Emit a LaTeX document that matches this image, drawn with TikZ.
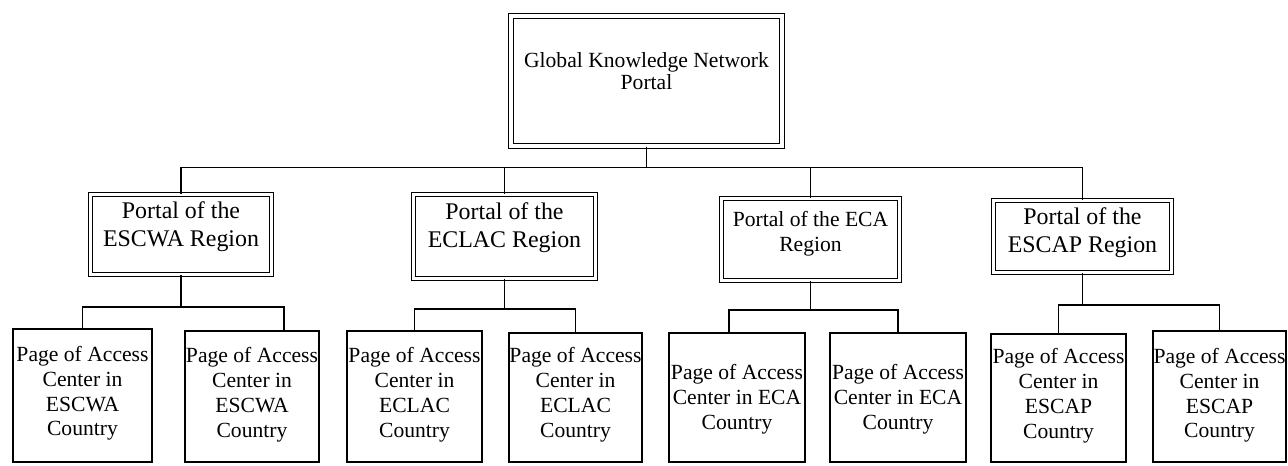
\documentclass[tikz,border=0pt]{standalone}
\usepackage{fontspec}
\setmainfont{Liberation Serif}
\usetikzlibrary{positioning}

\tikzset{
	portalbox/.style 2 args={draw, line width=.6pt, double, double distance=1.8pt,
		minimum width=#1, minimum height=#2},
	pagebox/.style 2 args={draw, line width=.9pt, minimum width=#1, minimum height=#2},
	link/.style={line width=.9pt},
	pagetext/.style={inner sep=0pt, align=center, font=\fontsize{12.3}{14.2}\selectfont},
	portaltext/.style={inner sep=0pt, align=center, font=\fontsize{13.6}{16.1}\selectfont},
}

\begin{document}
\begin{tikzpicture}[x=0.02cm, y=-0.02cm]
\useasboundingbox (0,0) rectangle (1288,466);

%Global portal
\node [portalbox={5.42cm}{2.6cm}, line width=.7pt, double distance=2pt] (gkn) at (646.5,81) {};
\node [below=21pt of gkn.north, inner sep=0pt, align=center,
	font=\fontsize{12.3}{12.4}\selectfont] (gkntext) {Global Knowledge Network\\Portal};

%Regional portals
\node [portalbox={3.62cm}{1.6cm}] (escwa) at (181,234.5) {};
\node [portaltext, below=4.2pt of escwa.north] (escwatext) {Portal of the\\ESCWA Region};

\node [portalbox={3.64cm}{1.68cm}] (eclac) at (504.5,236.5) {};
\node [portaltext, below=4.8pt of eclac.north] (eclactext) {Portal of the\\ECLAC Region};

\node [portalbox={3.56cm}{1.64cm}] (eca) at (810.5,239.5) {};
\node [portaltext, below=7.6pt of eca.north, font=\fontsize{12.3}{13.8}\selectfont]
	(ecatext) {Portal of the ECA\\Region};

\node [portalbox={3.56cm}{1.44cm}] (escap) at (1082.5,236.5) {};
\node [portaltext, below=4.3pt of escap.north] (escaptext) {Portal of the\\ESCAP Region};

%Pages of the access centers
\node [pagebox={2.79cm}{2.67cm}] (w1) at (82.5,395.5) {};
\node [pagetext, below=10pt of w1.north] (w1text) {Page of Access\\Center  in\\ESCWA\\Country};
\node [pagebox={2.69cm}{2.63cm}] (w2) at (252,396.5) {};
\node [pagetext, below=9.5pt of w2.north] (w2text) {Page of Access\\Center in\\ESCWA\\Country};

\node [pagebox={2.71cm}{2.63cm}] (l1) at (414.5,396.5) {};
\node [pagetext, below=9.5pt of l1.north] (l1text) {Page of Access\\Center in\\ECLAC\\Country};
\node [pagebox={2.67cm}{2.59cm}] (l2) at (575.5,397.5) {};
\node [pagetext, below=8.5pt of l2.north] (l2text) {Page of Access\\Center in\\ECLAC\\Country};

\node [pagebox={2.73cm}{2.59cm}] (a1) at (737,397.5) {};
\node [pagetext, below=18pt of a1.north] (a1text) {Page of Access\\Center in ECA\\Country};
\node [pagebox={2.73cm}{2.59cm}] (a2) at (898,397.5) {};
\node [pagetext, below=18pt of a2.north] (a2text) {Page of Access\\Center in ECA\\Country};

\node [pagebox={2.71cm}{2.57cm}] (p1) at (1058.5,398) {};
\node [pagetext, below=8.5pt of p1.north] (p1text) {Page of Access\\Center in\\ESCAP\\Country};
\node [pagebox={2.67cm}{2.63cm}] (p2) at (1219.5,396.5) {};
\node [pagetext, below=10pt of p2.north] (p2text) {Page of Access\\Center in\\ESCAP\\Country};

%Connectors
\draw [link] (gkn.south) -- ++(0,21) -| (escwa.north);
\draw [link] (gkn.south) -- ++(0,21) -| (eclac.north);
\draw [link] (gkn.south) -- ++(0,21) -| (eca.north);
\draw [link] (gkn.south) -- ++(0,21) -| (escap.north);

\draw [link] (escwa.south) -- ++(0,32) -| (w1.north);
\draw [link] (escwa.south) -- ++(0,32) -| ([xshift=0.64cm]w2.north);

\draw [link] (eclac.south) -- ++(0,30) -| (l1.north);
\draw [link] (eclac.south) -- ++(0,30) -| (l2.north);

\draw [link] (eca.south) -- ++(0,29) -| ([xshift=-0.16cm]a1.north);
\draw [link] (eca.south) -- ++(0,29) -| (a2.north);

\draw [link] (escap.south) -- ++(0,32) -| (p1.north);
\draw [link] (escap.south) -- ++(0,32) -| (p2.north);

\end{tikzpicture}
\end{document}
